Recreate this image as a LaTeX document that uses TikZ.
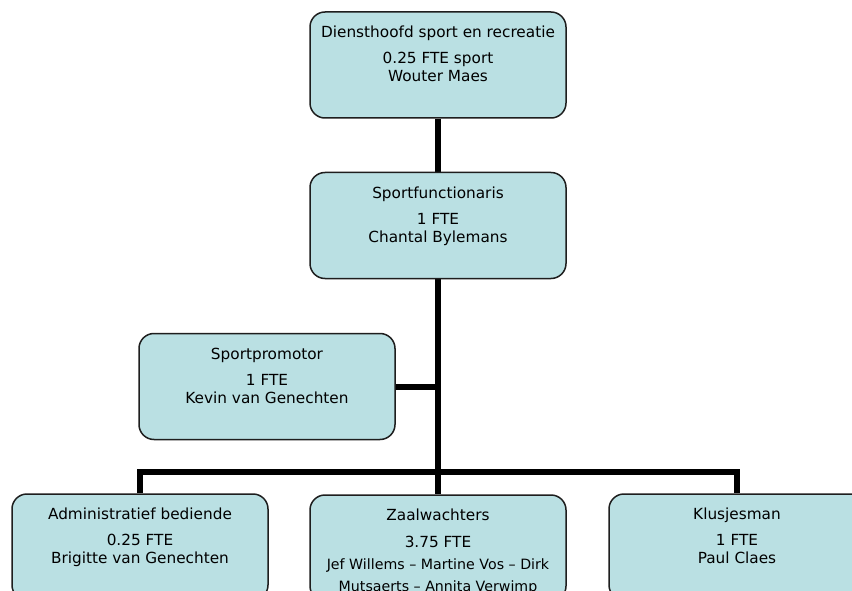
\documentclass[tikz,border=0pt]{standalone}
\usepackage{fontspec}
\setmainfont{DejaVu Sans}
\usetikzlibrary{backgrounds}
\definecolor{boxfill}{RGB}{186,224,227}
\definecolor{boxline}{RGB}{30,30,30}
\tikzset{
  orgbox/.style={draw=boxline, line width=1.5pt, fill=boxfill, rounded corners=15pt,
    minimum width=256pt, minimum height=106pt, inner sep=0pt},
  boxtext/.style={anchor=north, inner sep=0pt, align=center,
    font=\fontsize{15.3}{18}\selectfont},
  link/.style={line width=6pt, draw=black, line join=miter}
}
\newcommand{\fstrut}{\rule{0pt}{12pt}}
\begin{document}
\begin{tikzpicture}[x=1pt, y=-1pt]
\clip (0,0) rectangle (852,591);
% boxes
\node[orgbox] (top)   at (438,65)    {};
\node[orgbox] (func)  at (438,225.5) {};
\node[orgbox] (promo) at (267,386.5) {};
\node[orgbox] (admin) at (140,547)   {};
\node[orgbox] (zaal)  at (438,548)   {};
\node[orgbox] (klus)  at (737,547)   {};
% texts
\node[boxtext] (ttop) at ([yshift=-14.5pt]top.north)
  {\fstrut Diensthoofd sport en recreatie\\[8pt]0.25 FTE sport\\Wouter Maes};
\node[boxtext] (tfunc) at ([yshift=-14.5pt]func.north)
  {\fstrut Sportfunctionaris\\[8pt]1 FTE\\Chantal Bylemans};
\node[boxtext] (tpromo) at ([yshift=-14.5pt]promo.north)
  {\fstrut Sportpromotor\\[8pt]1 FTE\\Kevin van Genechten};
\node[boxtext] (tadmin) at ([yshift=-14.5pt]admin.north)
  {\fstrut Administratief bediende\\[8pt]0.25 FTE\\Brigitte van Genechten};
\node[boxtext] (tzaal) at ([yshift=-14.5pt]zaal.north)
  {\fstrut Zaalwachters\\[9pt]3.75 FTE\\[4pt]{\fontsize{14.2}{19}\selectfont Jef Willems – Martine Vos – Dirk}\\[4pt]{\fontsize{14.2}{19}\selectfont Mutsaerts – Annita Verwimp}};
\node[boxtext] (tklus) at ([yshift=-14.5pt]klus.north)
  {\fstrut Klusjesman\\[8pt]1 FTE\\Paul Claes};
% connectors
\coordinate (bus) at (438,472);
\begin{pgfonlayer}{background}
\fill[white] (0,0) rectangle (852,591);
\draw[link] (top.south) -- (func.north);
\draw[link] (func.south) -- (zaal.north);
\draw[link] (promo.east) -- (promo.east -| func.south);
\draw[link] (admin.north) -- (admin.north |- bus) -- (klus.north |- bus) -- (klus.north);
\end{pgfonlayer}
\end{tikzpicture}
\end{document}
